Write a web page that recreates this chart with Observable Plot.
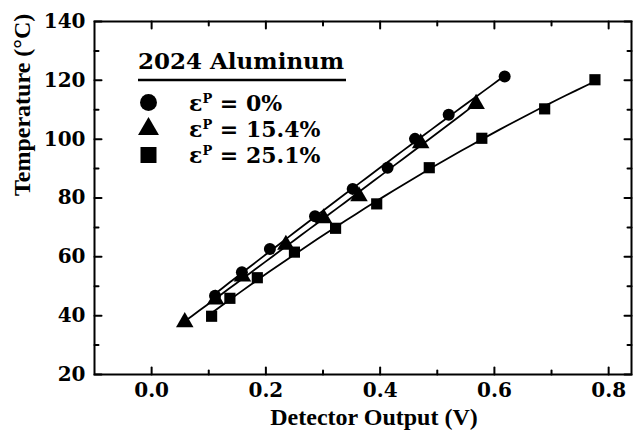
<!DOCTYPE html>
<html>
<head>
<meta charset="utf-8">
<script src="https://cdn.jsdelivr.net/npm/d3@7"></script>
<script src="https://cdn.jsdelivr.net/npm/@observablehq/plot@0.6"></script>
<style>
  html, body { margin: 0; padding: 0; background: #fff; }
  #wrap { position: relative; width: 633px; height: 433px; }
  #legend { position: absolute; left: 0; top: 0; pointer-events: none; }
</style>
</head>
<body>
<div id="wrap"></div>
<script>
// ---- data ----
const seriesNames = ["εP = 0%", "εP = 15.4%", "εP = 25.1%"];
const circleX = [0.111, 0.158, 0.207, 0.286, 0.352, 0.413, 0.461, 0.520, 0.618];
const circleY = [46.8, 54.8, 62.7, 73.8, 83.1, 90.3, 100.1, 108.3, 121.3];
const triX = [0.058, 0.112, 0.159, 0.235, 0.301, 0.363, 0.471, 0.568];
const triY = [37.8, 45.5, 53.3, 64.1, 73.1, 80.6, 98.6, 112.0];
const sqX = [0.105, 0.137, 0.185, 0.250, 0.322, 0.394, 0.486, 0.578, 0.688, 0.776];
const sqY = [39.8, 45.9, 52.9, 61.6, 69.7, 78.0, 90.3, 100.3, 110.3, 120.2];

const xMajor = [0, 0.2, 0.4, 0.6, 0.8];
const xMinor = [0.1, 0.3, 0.5, 0.7];
const yMajor = [20, 40, 60, 80, 100, 120, 140];
const yMinor = [30, 50, 70, 90, 110, 130];
const xTitle = "Detector Output (V)";
const yTitle = "Temperature (°C)";
const legendTitle = "2024 Aluminum";

const toRows = (xs, ys, s) => xs.map((x, i) => ({x, y: ys[i], s}));
const circles = toRows(circleX, circleY, 0);
const tris = toRows(triX, triY, 1);
const squares = toRows(sqX, sqY, 2);

// least-squares quadratic fit through the read points (the reference draws fitted curves)
function quadFit(xs, ys) {
  const n = xs.length;
  let s = [0, 0, 0, 0, 0], t = [0, 0, 0];
  for (let i = 0; i < n; i++) {
    let p = 1;
    for (let k = 0; k < 5; k++) { s[k] += p; if (k < 3) t[k] += p * ys[i]; p *= xs[i]; }
  }
  const A = [[s[0], s[1], s[2], t[0]], [s[1], s[2], s[3], t[1]], [s[2], s[3], s[4], t[2]]];
  for (let c = 0; c < 3; c++) {
    for (let r = c + 1; r < 3; r++) {
      const f = A[r][c] / A[c][c];
      for (let k = c; k < 4; k++) A[r][k] -= f * A[c][k];
    }
  }
  const b = [0, 0, 0];
  for (let r = 2; r >= 0; r--) {
    let v = A[r][3];
    for (let k = r + 1; k < 3; k++) v -= A[r][k] * b[k];
    b[r] = v / A[r][r];
  }
  const [lo, hi] = d3.extent(xs);
  return d3.range(41).map(i => {
    const x = lo + (hi - lo) * i / 40;
    return {x, y: b[0] + b[1] * x + b[2] * x * x};
  });
}

const tickShape = {draw(ctx, l) { ctx.moveTo(0, 0); ctx.lineTo(0, -l); }};
const tickSet = (vals, axis, anchor, rot, len) =>
  Plot.vector(vals, {
    [axis]: d => d, frameAnchor: anchor, rotate: rot, length: len,
    anchor: "start", shape: tickShape, stroke: "black", strokeWidth: 2
  });

const titleFont = {fontFamily: "Liberation Serif", fontWeight: "bold", fontSize: 24, fill: "black"};

const plot = Plot.plot({
  width: 633,
  height: 433,
  marginLeft: 94,
  marginTop: 21,
  marginBottom: 59,
  marginRight: 2,
  style: {fontFamily: "DejaVu Serif", fontWeight: "bold", fontSize: "20px", color: "black", background: "white"},
  x: {domain: [-0.1, 0.84]},
  y: {domain: [20, 140]},
  marks: [
    Plot.frame({stroke: "black", strokeWidth: 2}),
    Plot.axisX({ticks: xMajor, tickSize: 0, tickPadding: 8, tickFormat: d3.format(".1f"), label: null}),
    Plot.axisY({ticks: yMajor, tickSize: 0, tickPadding: 9, tickFormat: d3.format("d"), label: null}),
    // inward ticks on all four sides
    tickSet(xMajor, "x", "bottom", 0, 7),
    tickSet(xMinor, "x", "bottom", 0, 4),
    tickSet(xMajor, "x", "top", 180, 7),
    tickSet(xMinor, "x", "top", 180, 4),
    tickSet(yMajor, "y", "left", 90, 7),
    tickSet(yMinor, "y", "left", 90, 4),
    tickSet(yMajor, "y", "right", -90, 7),
    tickSet(yMinor, "y", "right", -90, 4),
    // fitted series curves
    Plot.line(quadFit(circleX, circleY), {x: "x", y: "y", stroke: "black", strokeWidth: 1.8}),
    Plot.line(quadFit(triX, triY), {x: "x", y: "y", stroke: "black", strokeWidth: 1.8}),
    Plot.line(quadFit(sqX, sqY), {x: "x", y: "y", stroke: "black", strokeWidth: 1.8}),
    // markers
    Plot.dot(circles, {x: "x", y: "y", symbol: "circle", r: 6, fill: "black"}),
    Plot.dot(tris, {x: "x", y: "y", symbol: "triangle", r: 6.5, fill: "black"}),
    Plot.dot(squares, {x: "x", y: "y", symbol: "square", r: 6.3, fill: "black"}),
    // axis titles
    Plot.text([xTitle], {text: d => d, frameAnchor: "bottom", dx: 11, dy: 43, lineAnchor: "middle", ...titleFont}),
    Plot.text([yTitle], {text: d => d, frameAnchor: "left", rotate: -90, dx: -72, dy: -2, lineAnchor: "middle", ...titleFont})
  ]
});

const wrap = document.getElementById("wrap");
wrap.appendChild(plot);

// ---- legend overlay ----
const leg = d3.select(wrap).append("svg")
  .attr("id", "legend").attr("width", 633).attr("height", 433)
  .style("font-family", "DejaVu Serif").style("font-weight", "bold");
leg.append("text").attr("x", 138).attr("y", 69).attr("font-size", 23).text(legendTitle);
leg.append("line").attr("x1", 138).attr("x2", 346).attr("y1", 80).attr("y2", 80)
  .attr("stroke", "black").attr("stroke-width", 2.5);
const rowY = [102.5, 129, 155];
const symbols = [d3.symbolCircle, d3.symbolTriangle, d3.symbolSquare];
const symSize = [225, 190, 256];
seriesNames.forEach((name, i) => {
  leg.append("path")
    .attr("transform", `translate(148.5,${rowY[i]})`)
    .attr("d", d3.symbol(symbols[i], symSize[i])())
    .attr("fill", "black");
  const t = leg.append("text").attr("x", 189).attr("y", rowY[i] + 8).attr("font-size", 22);
  const rest = name.slice(2);
  t.append("tspan").text("ε");
  t.append("tspan").attr("dy", -8).attr("font-size", 13).text("P");
  t.append("tspan").attr("dy", 8).text(rest);
});
</script>
</body>
</html>
